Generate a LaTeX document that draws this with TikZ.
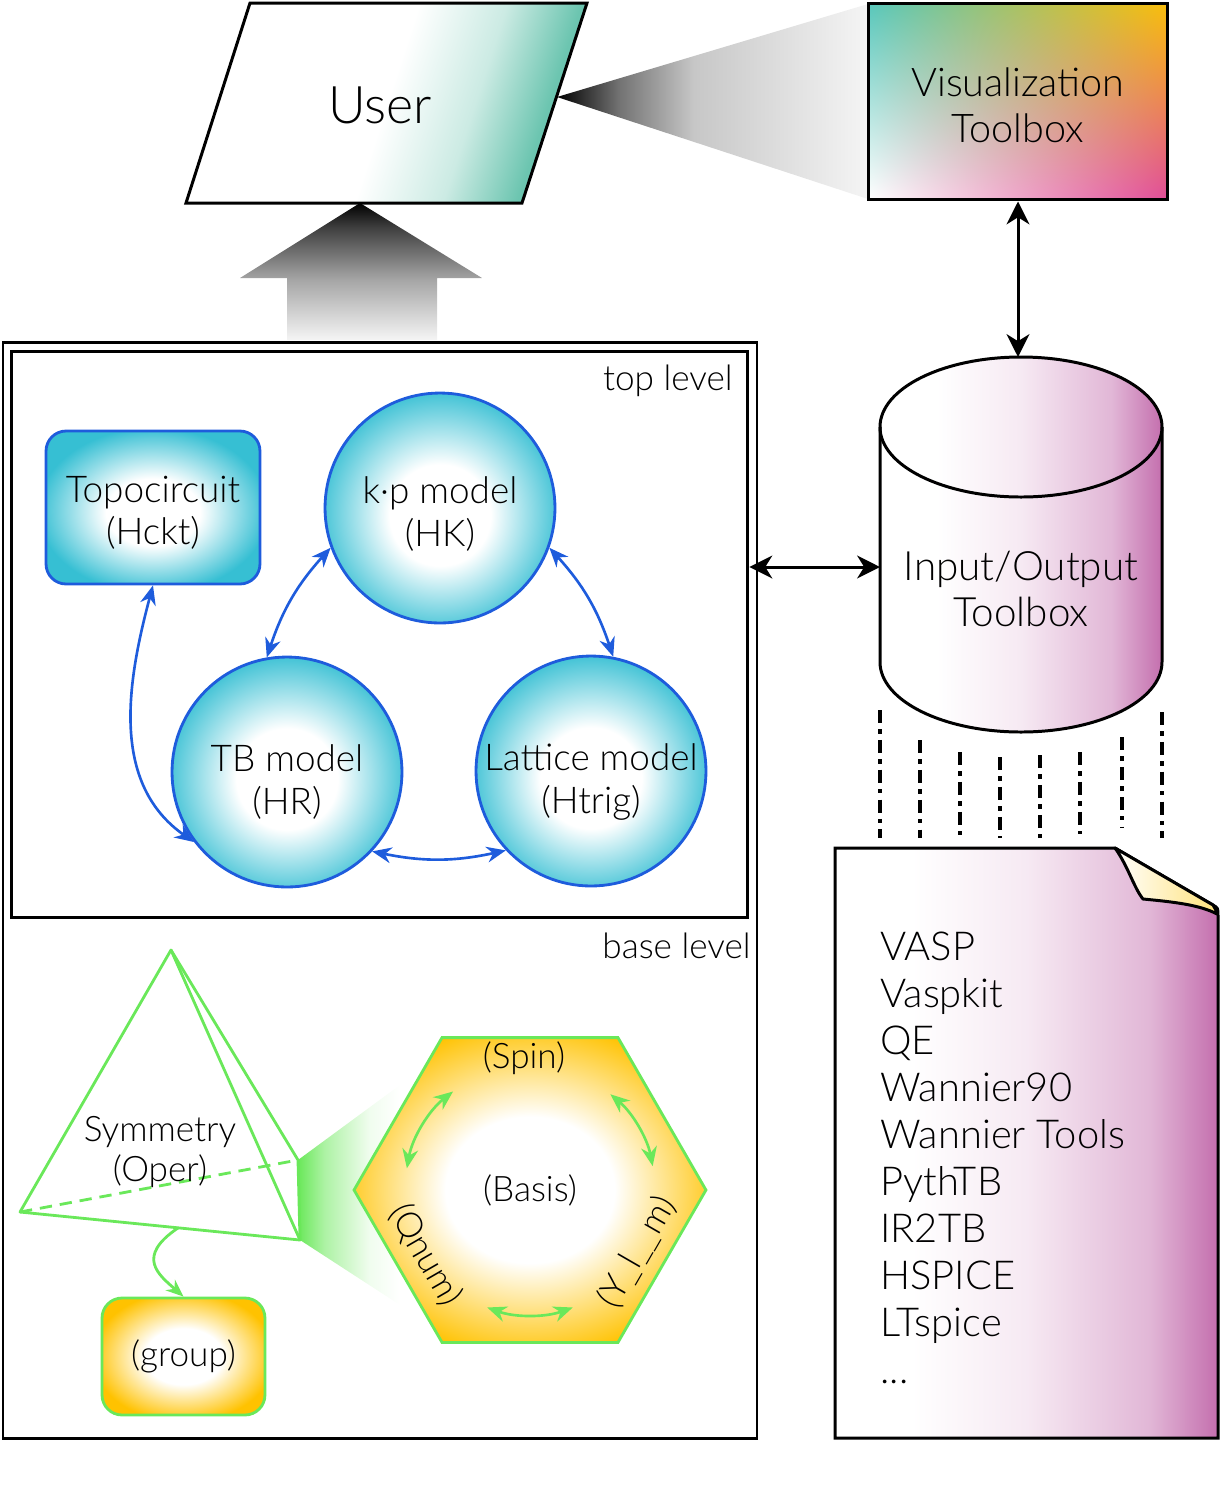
\documentclass[tikz,border=0pt]{standalone}
\usepackage{fontspec}
\setmainfont{Lato}[UprightFont={* Light}]
\usetikzlibrary{arrows.meta,shapes.geometric,shadings}
\definecolor{userteal}{HTML}{6CC5B0}
\definecolor{visteal}{HTML}{58C7BC}
\definecolor{visyellow}{HTML}{FABE0A}
\definecolor{vispink}{HTML}{E04C98}
\definecolor{modelblue}{HTML}{1E5CDC}
\definecolor{modelcyan}{HTML}{36BFD3}
\definecolor{symgreen}{HTML}{6AE85A}
\definecolor{basisorange}{HTML}{FFC200}
\definecolor{iomagenta}{HTML}{C46FAE}
\definecolor{foldyellow}{HTML}{FFE27A}
\pgfdeclareradialshading{cyanglow}{\pgfpoint{0bp}{-2bp}}{color(0bp)=(white); color(11bp)=(white); color(27bp)=(modelcyan); color(50bp)=(modelcyan)}
\pgfdeclareradialshading{orangeglow}{\pgfpoint{0bp}{0bp}}{color(0bp)=(white); color(12bp)=(white); color(28bp)=(basisorange); color(50bp)=(basisorange)}
\pgfdeclarehorizontalshading{iofade}{100bp}{color(0bp)=(white); color(35bp)=(white); color(50bp)=(iomagenta!15); color(66bp)=(iomagenta!50); color(75bp)=(iomagenta); color(100bp)=(iomagenta)}
\pgfdeclarehorizontalshading{userfade}{100bp}{color(0bp)=(white); color(50bp)=(white); color(62bp)=(userteal!35); color(72bp)=(userteal); color(100bp)=(userteal)}
\pgfdeclarehorizontalshading{conefade}{100bp}{color(0bp)=(black); color(25bp)=(black); color(35bp)=(black!55); color(47bp)=(black!22); color(75bp)=(black!4); color(100bp)=(black!4)}
\pgfdeclareverticalshading{liftfade}{100bp}{color(0bp)=(black!4); color(25bp)=(black!4); color(47bp)=(black!35); color(66bp)=(black!75); color(75bp)=(black); color(100bp)=(black)}
\pgfdeclarehorizontalshading{glowfade}{100bp}{color(0bp)=(symgreen); color(25bp)=(symgreen); color(38bp)=(symgreen!55); color(60bp)=(symgreen!10); color(75bp)=(white); color(100bp)=(white)}
\begin{document}
\begin{tikzpicture}[x=0.02cm, y=0.02cm,
    frame/.style={draw=black, line width=1.7pt},
    blackarrow/.style={draw=black, line width=1.7pt, <->, >={Stealth[length=13pt,width=13pt,inset=4pt]}},
    bluearrow/.style={draw=modelblue, line width=1.5pt, <->, >={Stealth[length=11pt,width=9pt]}},
    greenarrow/.style={draw=symgreen, line width=1.5pt, <->, >={Stealth[length=11pt,width=9pt]}},
    model/.style={circle, draw=modelblue, line width=1.6pt, shade, shading=cyanglow, minimum size=4.6cm, inner sep=0pt},
    modeltext/.style={align=center, inner sep=0pt, font=\fontsize{21}{24}\selectfont},
    topobox/.style={rectangle, rounded corners=0.4cm, draw=modelblue, line width=1.6pt, shade, shading=cyanglow, minimum width=4.28cm, minimum height=3.06cm},
    groupbox/.style={rectangle, rounded corners=0.4cm, draw=symgreen, line width=1.6pt, shade, shading=orangeglow, minimum width=3.26cm, minimum height=2.34cm, font=\fontsize{20}{23}\selectfont},
    hexa/.style={regular polygon, regular polygon sides=6, minimum size=7.04cm, inner sep=0pt, draw=symgreen, line width=1.6pt, shade, shading=orangeglow, font=\fontsize{20}{23}\selectfont},
    plain/.style={align=center, inner sep=0pt, font=\fontsize{20}{23}\selectfont},
    levellabel/.style={anchor=east, inner sep=0pt, font=\fontsize{20}{23}\selectfont},
    bigtext/.style={align=center, inner sep=0pt, font=\fontsize{23}{26.6}\selectfont},
    listitem/.style={anchor=base west, inner sep=0pt, font=\fontsize{22.7}{27}\selectfont},
    symline/.style={draw=symgreen, line width=1.6pt, line join=round},
    dashdot/.style={draw=black, line width=2.3pt, dash pattern=on 7.5pt off 3.5pt on 2.5pt off 3.5pt},
    iofill/.style={draw=black, line width=1.7pt, shade, shading=iofade}]
\useasboundingbox (0,0) rectangle (1221,-1492);

% user and the two projections
\shade[shading=liftfade] (360,-203) -- (482,-278) -- (437,-278) -- (437,-340) -- (287,-340) -- (287,-278) -- (240,-278) -- cycle;
\shade[shading=conefade] (557,-97) -- (868,-4) -- (868,-199) -- cycle;
\path[frame, shade, shading=userfade, shading angle=-18] (186,-203) -- (522,-203) -- (587,-3) -- (250,-3) -- cycle;
\node[inner sep=0pt, font=\fontsize{29.5}{36}\selectfont] (user) at (380,-105) {User};

% visualization toolbox
\node[frame, minimum width=6cm, minimum height=3.94cm, upper left=visteal, upper right=visyellow, lower left=white, lower right=vispink] (vis) at (1018,-101.5) {};
\node[modeltext, font=\fontsize{22.5}{26}\selectfont] (vistext) at (1018,-105) {Visualization\\Toolbox};

% frames
\draw[frame] (3,-342) rectangle (757,-1438);
\node[frame, minimum width=14.74cm, minimum height=11.34cm, inner sep=0pt] (topbox) at (379.5,-634.5) {};
\node[levellabel] (toplab) at (733,-381) {top level};
\node[levellabel] (baselab) at (751,-946) {base level};

% top level
\node[model] (kp) at (440,-508) {};
\node[model] (tb) at (287,-772) {};
\node[model] (lat) at (591,-771) {};
\node[topobox] (topo) at (153,-507.5) {};
\node[modeltext] (kptext) at (440,-514) {k·p model\\(HK)};
\node[modeltext] (tbtext) at (287,-782) {TB model\\(HR)};
\node[modeltext] (lattext) at (591,-782) {Lattice model\\(Htrig)};
\node[modeltext] (topotext) at (153,-513) {Topocircuit\\(Hckt)};
\draw[bluearrow] (kp.200) to[bend right=12] (tb.100);
\draw[bluearrow] (kp.340) to[bend left=12] (lat.79);
\draw[bluearrow] (tb.317) to[bend right=12] (lat.223);
\draw[bluearrow] (topo.south) to[out=255,in=145] (tb.217);

% base level
\coordinate (apex) at (171,-950);
\coordinate (pl) at (20,-1212);
\coordinate (pf) at (300,-1240);
\coordinate (pb) at (298,-1160);
\path (pl) -- (pf) coordinate[pos=0.565] (pbase);
\shade[shading=glowfade] (pb) -- (400,-1085) -- (400,-1305) -- (pf) -- cycle;
\draw[symline] (apex) -- (pl) -- (pf) -- (pb) -- cycle;
\draw[symline] (apex) -- (pf);
\draw[symline, dash pattern=on 7pt off 4.5pt] (pl) -- (pb);
\node[plain] (sym) at (160,-1152) {Symmetry\\(Oper)};
\node[groupbox] (group) at (183.5,-1356.5) {(group)};
\draw[symline, -{Stealth[length=10pt,width=8pt]}] (pbase) .. controls +(-43,-29) and +(-25,22) .. (group.north);

\node[hexa] (basis) at (530,-1190) {(Basis)};
\node[plain] (spin) at (524,-1058) {(Spin)};
\node[plain, rotate=-60] (qnum) at (425,-1255) {(Qnum)};
\node[plain, rotate=60] (ylm) at (637,-1252) {(Y\_l\_\_m)};
\foreach \a/\b in {128/170, 11/50, 250/290}
  \draw[greenarrow] ([shift={(\a:125)}]basis.center) arc[start angle=\a, end angle=\b, radius=125];

% input/output toolbox
\path[iofill] (880,-427) -- (880,-662) arc[start angle=180, end angle=360, x radius=141, y radius=70] -- (1162,-427) arc[start angle=0, end angle=180, x radius=141, y radius=70] -- cycle;
\draw[frame] (880,-427) arc[start angle=180, end angle=360, x radius=141, y radius=70];
\node[bigtext] (io) at (1021,-589) {Input/Output\\Toolbox};
\coordinate (iotop) at (1018,-357);
\coordinate (iowest) at (880,-567);
\draw[blackarrow] (vis.south) -- (iotop);
\draw[blackarrow] (topbox.east |- iowest) -- (iowest);

\foreach \x/\t/\b in {880/710/838, 920/740/838, 960/752/836, 1000/757/838, 1040/755/838, 1080/752/834, 1122/737/828, 1162/712/838}
  \draw[dashdot] (\x,-\t) -- (\x,-\b);

% codes
\path[iofill] (835,-848) -- (1115,-848) -- (1213,-905) .. controls (1218,-908) .. (1218,-916) -- (1218,-1438) -- (835,-1438) -- cycle;
\shadedraw[frame, left color=white, right color=foldyellow, line join=round] (1115,-848) .. controls (1128,-866) and (1134,-888) .. (1143,-899) .. controls (1175,-902) and (1200,-905) .. (1217,-914) .. controls (1216,-910) .. (1213,-905) -- cycle;
\foreach \name [count=\i from 0] in {VASP, Vaspkit, QE, Wannier90, Wannier Tools, PythTB, IR2TB, HSPICE, LTspice}
  \node[listitem] (code\i) at (880,{-960-47*\i}) {\name};
\node[listitem] (codedots) at (880,-1383) {...};
\end{tikzpicture}
\end{document}
